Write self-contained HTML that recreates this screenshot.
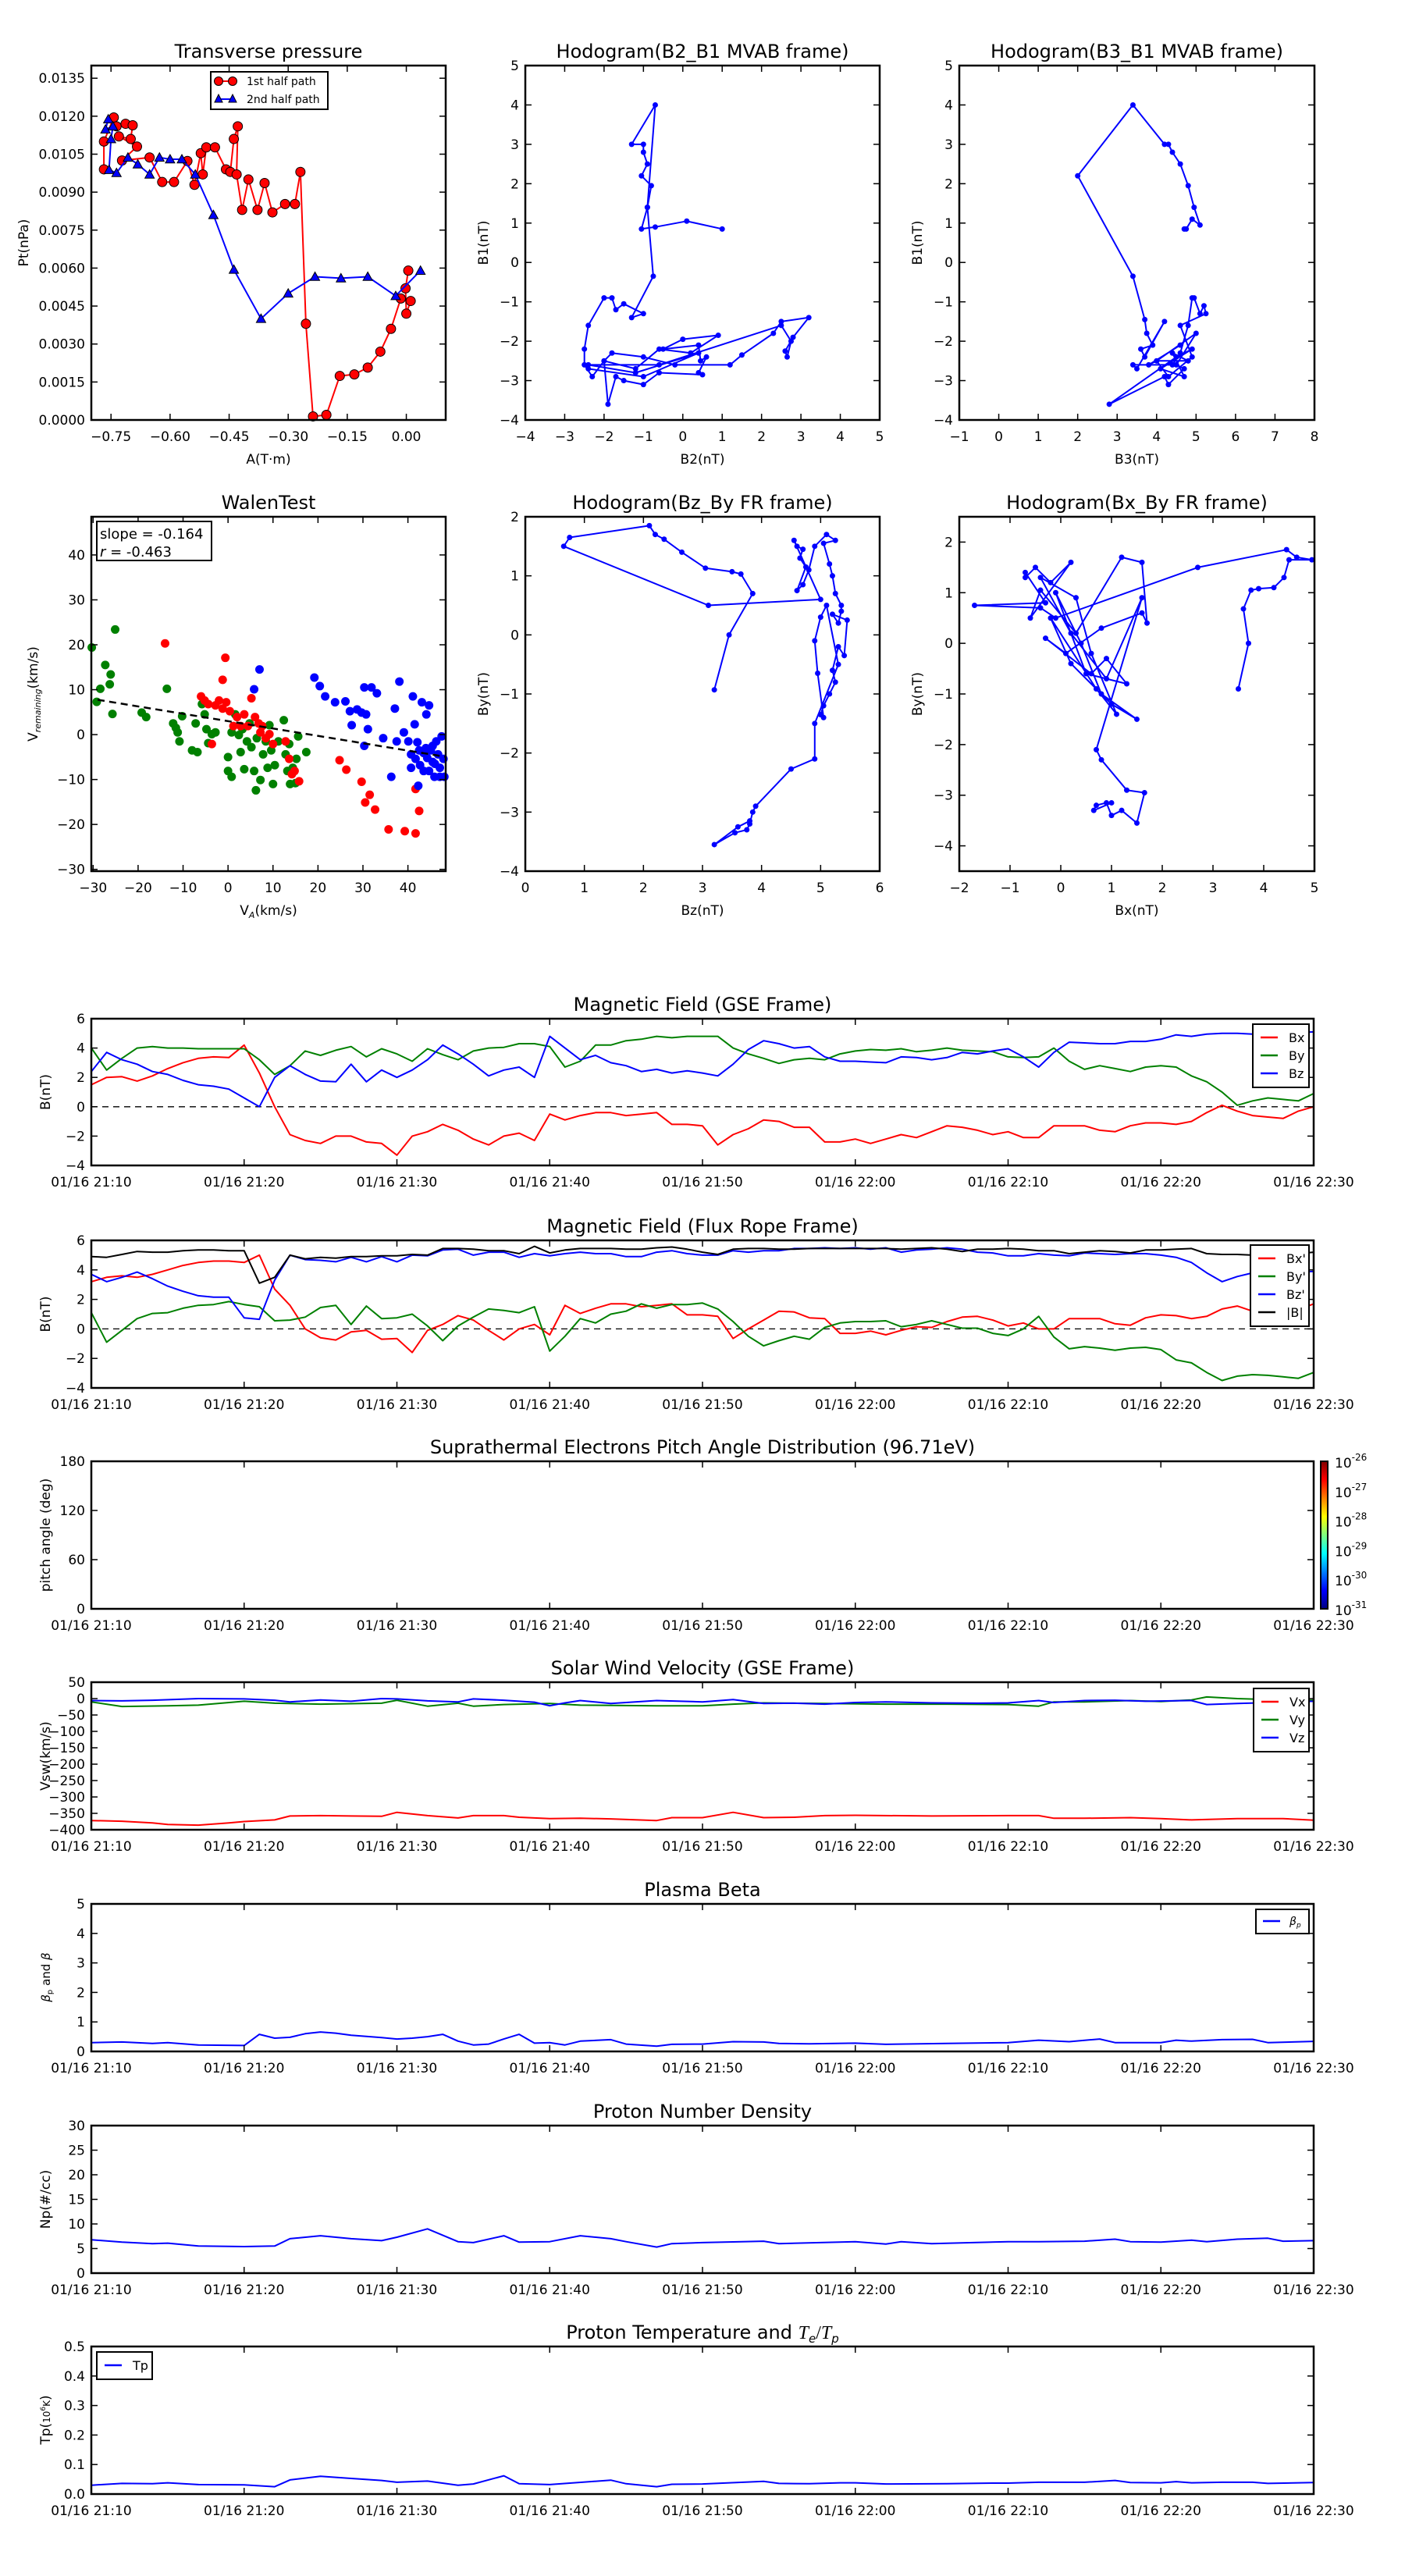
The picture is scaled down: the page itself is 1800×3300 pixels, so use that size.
<!DOCTYPE html>
<html><head><meta charset="utf-8">
<style>
html,body{margin:0;padding:0;background:#fff;}
svg{display:block;font-family:"DejaVu Sans","Liberation Sans",sans-serif;}
</style></head>
<body>
<svg id="fig" width="1800" height="3300" viewBox="0 0 1800 3300" xmlns="http://www.w3.org/2000/svg">
<rect x="0" y="0" width="1800" height="3300" fill="#fff"/>
<defs>
<linearGradient id="jet" x1="0" y1="1" x2="0" y2="0">
<stop offset="0" stop-color="#000080"/><stop offset="0.125" stop-color="#0000ff"/><stop offset="0.375" stop-color="#00ffff"/><stop offset="0.625" stop-color="#ffff00"/><stop offset="0.875" stop-color="#ff0000"/><stop offset="1" stop-color="#800000"/>
</linearGradient>
</defs>
</svg>
<script>
// ---------- data: transverse pressure ----------
const pt1A = [-0.768,-0.768,-0.743,-0.736,-0.713,-0.695,-0.70,-0.73,-0.684,-0.722,-0.652,-0.62,-0.59,-0.556,-0.538,-0.522,-0.517,-0.508,-0.486,-0.458,-0.447,-0.438,-0.428,-0.431,-0.417,-0.401,-0.378,-0.36,-0.34,-0.308,-0.283,-0.269,-0.255,-0.237,-0.203,-0.169,-0.132,-0.098,-0.066,-0.039,-0.014,0.011,0.0,-0.002,0.005];
const pt1P = [0.0099,0.0110,0.01195,0.0116,0.0117,0.01164,0.0111,0.0112,0.0108,0.01025,0.01037,0.0094,0.0094,0.01023,0.00929,0.01054,0.0097,0.01077,0.01077,0.0099,0.0098,0.0111,0.0116,0.0097,0.0083,0.0095,0.0083,0.00936,0.0082,0.00853,0.00853,0.0098,0.0038,0.00014,0.0002,0.00174,0.0018,0.00207,0.0027,0.0036,0.0048,0.0047,0.0042,0.0052,0.0059];
const pt2A = [-0.757,-0.764,-0.745,-0.75,-0.755,-0.736,-0.707,-0.682,-0.652,-0.627,-0.60,-0.57,-0.536,-0.49,-0.438,-0.369,-0.30,-0.232,-0.166,-0.098,-0.027,0.036];
const pt2P = [0.01188,0.01148,0.0116,0.0111,0.00988,0.00976,0.01037,0.0101,0.0097,0.01037,0.0103,0.0103,0.0097,0.0081,0.00594,0.0040,0.0050,0.00566,0.0056,0.00566,0.0049,0.0059];
// ---------- hodogram B2_B1 ----------
const h1X = [1.0,0.1,-0.7,-1.05,-0.9,-0.8,-1.05,-0.9,-1.0,-1.0,-1.3,-0.7,-0.9,-0.75,-1.3,-1.0,-1.5,-1.7,-1.8,-2.0,-2.4,-2.5,-2.5,-2.3,-2.0,-1.2,-0.6,0.2,0.9,0.0,-0.5,0.4,0.45,0.6,0.4,0.5,-0.6,-1.0,-1.5,-1.7,-1.9,-2.0,-1.8,-1.0,-0.2,1.2,1.5,2.3,2.5,3.2,2.8,2.6,2.65,2.75,2.5,-0.6,-2.4,-1.2,0.4,-1.0,-2.4];
const h1Y = [0.85,1.05,0.9,0.85,1.4,1.95,2.2,2.5,2.8,3.0,3.0,4.0,1.4,-0.35,-1.4,-1.3,-1.05,-1.2,-0.9,-0.9,-1.6,-2.2,-2.6,-2.9,-2.5,-2.7,-2.2,-2.3,-1.85,-1.95,-2.2,-2.1,-2.5,-2.4,-2.8,-2.85,-2.8,-3.1,-3.0,-2.9,-3.6,-2.5,-2.3,-2.4,-2.6,-2.6,-2.35,-1.8,-1.5,-1.4,-1.9,-2.25,-2.4,-2.0,-1.6,-2.6,-2.6,-2.8,-2.3,-2.9,-2.7];
// ---------- hodogram B3_B1 ----------
const h2X = [4.7,4.75,4.9,5.1,4.95,4.8,4.6,4.4,4.3,4.2,3.4,2.0,3.4,3.7,3.75,3.9,3.6,3.7,4.2,3.5,3.4,4.4,4.6,4.8,4.9,4.95,5.1,5.2,5.25,4.6,4.9,4.3,4.0,5.0,4.5,4.7,4.3,4.2,2.8,4.5,4.9,4.1,4.7,4.4,4.8,4.0,3.8,4.6];
const h2Y = [0.85,0.85,1.1,0.95,1.4,1.95,2.5,2.8,3.0,3.0,4.0,2.2,-0.35,-1.45,-1.8,-2.1,-2.2,-2.4,-1.5,-2.7,-2.6,-2.6,-2.3,-1.6,-0.9,-0.9,-1.3,-1.1,-1.3,-1.6,-2.4,-2.9,-2.5,-1.8,-2.6,-2.7,-3.1,-2.9,-3.6,-2.4,-2.2,-2.7,-2.9,-2.3,-2.5,-2.5,-2.6,-2.1];
// ---------- Walen test ----------
const wGX = [-30.3,-29.2,-28.4,-27.3,-26.3,-26.1,-25.7,-25.1,-19.2,-18.2,-13.6,-12.2,-11.6,-10.8,-10.2,-11.2,-8,-6.8,-7.2,-5.8,-5.2,-4.8,-4.4,-3.6,-2.8,0,0,0.8,0.8,1.6,2.4,2.8,3.2,3.6,4.2,4.8,5.2,5.8,6.2,6.4,7.2,7.8,8.4,8.8,9.2,9.6,10,10.4,11.2,12.4,12.8,13.2,13.6,13.8,14.4,15,15.2,15.6,17.4];
const wGY = [19.4,7.3,10.2,15.5,11.2,13.4,4.6,23.4,4.9,3.9,10.2,2.5,1.5,-1.5,4.1,0.5,-3.5,-3.9,2.5,6.8,4.5,1.2,-1.9,0.1,0.5,-5,-8.1,-9.4,0.5,4.5,-0.1,-3.9,1.2,-7.7,-1.5,2.5,-2.8,-8.1,-12.4,-0.8,-10.1,-4.4,-1.5,-7.4,2.1,-3.5,-11,-6.8,-1.5,3.2,-4.4,-8.1,-2.1,-11,-7.4,-10.8,-5.4,-0.4,-3.9];
const wRX = [-14,-0.6,-1.2,-6,-5.2,-4.4,-3.6,-2.8,-2,-1.2,-0.4,0.4,1.2,2,2.8,3.6,4.4,5.2,6,6.8,7.2,7.6,8.4,9.2,10,12.8,13.6,14.2,14.8,15.8,24.8,26.3,29.7,30.5,31.5,32.7,35.7,39.3,41.7,41.7,42.5];
const wRY = [20.3,17.1,12.2,8.5,7.6,6.8,-2.1,6.5,7.6,5.8,7.2,5.2,1.9,3.9,1.9,4.5,1.9,8.1,3.9,2.5,0.5,1.9,-0.8,0.1,-2.1,-1.5,-5.4,-8.8,-8.1,-10.4,-5.7,-7.8,-10.5,-15.1,-13.4,-16.7,-21.1,-21.5,-22,-12.1,-17];
const wBX = [7,5.8,19.2,20.4,21.6,23.8,26.1,27.1,27.5,28.7,29.7,30.3,31.1,30.7,30.3,31.9,33.1,34.5,36.3,37.1,37.5,38.1,39.1,40.1,40.7,41.1,41.5,42.1,42.3,42.7,43.1,43.5,44.1,44.3,44.7,44.7,45.1,45.5,45.9,46.3,46.7,47.1,47.5,47.9,48.1,47.1,43.5,41.7,40.7,46,44,42.5,45.5];
const wBY = [14.5,10.1,12.7,10.8,8.5,7.2,7.4,5.2,2.1,5.6,4.9,10.5,1.2,4.5,-2.5,10.5,9.2,-0.8,-9.4,5.8,-1.5,11.8,0.5,-1.5,-4.4,8.5,2.3,-1.7,-11.4,-6.8,7.2,-4.1,4.5,-5.2,6.5,-8.1,-3.5,-6.1,-9.4,-1.5,-4.4,-7.4,-0.4,-5.4,-9.4,-9.4,-8.1,-5.4,-7.4,-6.5,-3,-3.5,-2.5];
const walenSlope = [-0.164];
const walenIntercept = [3.0];
// ---------- hodogram Bz_By FR ----------
const h3X = [3.2,3.45,3.85,3.65,3.5,3.05,2.65,2.35,2.2,2.1,0.75,0.65,3.1,5.0,4.55,4.6,4.7,4.65,4.75,4.6,4.7,4.8,4.9,5.1,5.25,5.05,5.15,5.2,5.25,5.35,5.35,5.3,5.2,5.45,5.4,5.3,5.2,5.25,5.15,5.05,5.0,5.05,4.95,4.9,5.0,5.1,5.3,4.9,4.9,4.5,3.9,3.85,3.8,3.75,3.55,3.2,3.6,3.8];
const h3Y = [-0.93,0.0,0.7,1.03,1.07,1.13,1.4,1.62,1.7,1.85,1.65,1.5,0.5,0.6,1.6,1.5,1.45,1.3,1.15,0.75,0.85,1.1,1.5,1.7,1.6,1.55,1.2,1.0,0.7,0.5,0.4,0.2,0.35,0.25,-0.35,-0.2,-0.6,-0.8,-1.0,-1.2,-1.35,-1.4,-0.65,-0.1,0.3,0.5,-0.5,-1.5,-2.1,-2.27,-2.9,-3.0,-3.2,-3.3,-3.35,-3.55,-3.25,-3.15];
// ---------- hodogram Bx_By FR ----------
const h4X = [3.5,3.7,3.6,3.75,3.9,4.2,4.4,4.5,4.95,4.65,4.45,2.7,-0.1,-0.4,-1.7,-0.3,-0.7,-0.7,-0.5,-0.2,0.2,-0.6,-0.4,0.3,1.2,1.6,1.7,1.6,0.8,0.1,-0.3,0.6,0.9,1.3,0.5,-0.1,0.4,0.8,1.5,1.0,0.2,-0.2,0.7,1.1,0.6,0.3,-0.4,0.2,0.9,1.6,0.7,0.8,1.3,1.65,1.5,1.2,1.0,0.9,0.7,0.65,1.0];
const h4Y = [-0.9,0.0,0.68,1.05,1.08,1.1,1.3,1.65,1.65,1.7,1.85,1.5,0.5,0.7,0.75,0.8,1.4,1.3,1.5,1.2,1.6,0.5,1.05,0.2,1.7,1.6,0.4,0.6,0.3,-0.2,0.1,-0.6,-0.3,-0.8,-0.6,1.0,0.0,-1.0,-1.5,-1.2,-0.4,0.5,-0.9,-1.4,-0.2,0.9,1.3,0.2,-0.7,0.9,-2.1,-2.3,-2.9,-2.95,-3.55,-3.3,-3.4,-3.15,-3.2,-3.3,-3.15];
// ---------- time series (minutes after 21:10) ----------
const bMin = Array.from({length:81}, (_, i) => i);
const gseBx = [1.5,2.0,2.05,1.75,2.1,2.6,3.0,3.3,3.4,3.35,4.2,2.3,0.0,-1.9,-2.3,-2.5,-2.0,-2.0,-2.4,-2.5,-3.3,-2.0,-1.7,-1.2,-1.6,-2.2,-2.6,-2.0,-1.8,-2.3,-0.5,-0.9,-0.6,-0.4,-0.4,-0.6,-0.5,-0.4,-1.2,-1.2,-1.3,-2.6,-1.9,-1.5,-0.9,-1.0,-1.4,-1.4,-2.4,-2.4,-2.2,-2.5,-2.2,-1.9,-2.1,-1.7,-1.3,-1.4,-1.6,-1.9,-1.7,-2.1,-2.1,-1.3,-1.3,-1.3,-1.6,-1.7,-1.3,-1.1,-1.1,-1.2,-1.0,-0.4,0.1,-0.3,-0.6,-0.7,-0.8,-0.3,0.0];
const gseBy = [4.0,2.5,3.3,4.0,4.1,4.0,4.0,3.95,3.95,3.95,3.95,3.2,2.2,2.8,3.8,3.5,3.85,4.1,3.4,3.95,3.6,3.1,3.95,3.55,3.2,3.8,4.0,4.05,4.3,4.3,4.1,2.7,3.1,4.2,4.2,4.5,4.6,4.8,4.7,4.8,4.8,4.8,4.0,3.6,3.3,2.95,3.2,3.3,3.2,3.6,3.8,3.9,3.85,3.95,3.75,3.85,4.0,3.85,3.8,3.75,3.4,3.35,3.4,4.0,3.1,2.55,2.8,2.6,2.4,2.7,2.8,2.7,2.1,1.7,1.0,0.1,0.4,0.6,0.5,0.4,0.9];
const gseBz = [2.4,3.7,3.2,2.9,2.4,2.2,1.8,1.5,1.4,1.2,0.6,0.0,2.0,2.8,2.2,1.75,1.7,2.9,1.7,2.5,2.0,2.5,3.2,4.2,3.6,2.9,2.1,2.5,2.7,2.0,4.8,4.0,3.2,3.5,3.0,2.8,2.4,2.55,2.3,2.45,2.3,2.1,2.9,3.9,4.5,4.3,4.0,4.1,3.4,3.1,3.1,3.05,3.0,3.4,3.35,3.2,3.35,3.7,3.6,3.8,3.95,3.4,2.7,3.7,4.4,4.35,4.3,4.3,4.45,4.45,4.6,4.9,4.8,4.95,5.0,5.0,4.95,4.95,5.05,5.05,5.1];
const frBx = [3.2,3.5,3.6,3.5,3.7,4.0,4.3,4.5,4.6,4.6,4.5,5.0,2.7,1.6,0.0,-0.6,-0.75,-0.2,-0.1,-0.7,-0.65,-1.6,-0.1,0.3,0.9,0.6,-0.1,-0.75,0.0,0.3,-0.4,1.6,1.05,1.4,1.7,1.7,1.5,1.6,1.7,0.95,0.95,0.85,-0.65,0.0,0.6,1.2,1.15,0.75,0.7,-0.3,-0.3,-0.15,-0.4,-0.1,0.15,0.1,0.5,0.8,0.85,0.6,0.2,0.4,0.0,0.0,0.7,0.7,0.7,0.35,0.25,0.75,0.95,0.9,0.7,0.85,1.35,1.55,1.2,0.95,1.1,1.3,1.7];
const frBy = [1.1,-0.9,-0.1,0.7,1.05,1.1,1.4,1.6,1.65,1.85,1.65,1.5,0.55,0.6,0.8,1.45,1.6,0.3,1.55,0.7,0.75,1.0,0.2,-0.8,0.2,0.8,1.35,1.25,1.1,1.5,-1.5,-0.5,0.7,0.4,1.0,1.2,1.7,1.4,1.65,1.65,1.75,1.35,0.5,-0.5,-1.15,-0.8,-0.5,-0.7,0.1,0.4,0.5,0.5,0.55,0.15,0.3,0.55,0.3,0.05,0.05,-0.3,-0.45,0.0,0.85,-0.55,-1.35,-1.2,-1.3,-1.45,-1.3,-1.25,-1.4,-2.1,-2.3,-2.95,-3.5,-3.2,-3.1,-3.15,-3.25,-3.35,-2.95];
const frBz = [3.7,3.2,3.5,3.85,3.4,2.9,2.55,2.25,2.15,2.15,0.75,0.65,3.3,5.0,4.7,4.65,4.55,4.85,4.55,4.9,4.55,5.0,4.95,5.35,5.4,5.0,5.2,5.2,4.85,5.1,4.95,5.1,5.2,5.1,5.1,4.9,4.9,5.2,5.3,5.1,5.0,5.0,5.3,5.2,5.3,5.3,5.45,5.45,5.5,5.45,5.5,5.4,5.5,5.2,5.35,5.4,5.5,5.4,5.2,5.15,4.95,4.95,5.1,5.0,4.95,5.15,5.1,5.05,5.1,5.1,5.0,4.85,4.5,3.8,3.2,3.55,3.8,3.85,3.9,3.85,3.9];
const frBt = [4.9,4.85,5.05,5.25,5.2,5.2,5.3,5.35,5.35,5.3,5.3,3.1,3.5,5.0,4.75,4.85,4.8,4.9,4.9,4.95,4.95,5.05,5.0,5.45,5.45,5.4,5.3,5.3,5.1,5.6,5.15,5.35,5.45,5.45,5.45,5.4,5.4,5.5,5.55,5.4,5.2,5.05,5.4,5.45,5.45,5.4,5.4,5.45,5.45,5.45,5.45,5.45,5.45,5.4,5.45,5.5,5.4,5.25,5.4,5.4,5.45,5.4,5.3,5.3,5.1,5.2,5.3,5.25,5.15,5.35,5.35,5.4,5.45,5.1,5.05,5.05,5.0,5.0,5.05,5.1,5.2];
const vxMin = [0,2,4,5,7,9,10,12,13,15,17,19,20,22,24,25,27,28,30,32,34,37,38,40,42,44,46,48,50,55,60,62,63,65,68,70,72,75,78,80];
const vxVal = [-372,-374,-379,-384,-386,-379,-375,-370,-358,-357,-358,-359,-347,-357,-364,-357,-357,-362,-366,-365,-367,-372,-363,-363,-347,-363,-362,-357,-356,-358,-357,-357,-365,-365,-363,-366,-370,-366,-366,-371];
const vyMin = [0,2,5,7,10,12,15,19,20,22,24,25,27,30,32,37,40,42,44,48,52,56,60,62,63,65,68,70,72,73,75,78,80];
const vyVal = [-10,-24,-22,-20,-8,-14,-17,-14,-5,-23,-14,-23,-18,-15,-20,-22,-22,-17,-13,-15,-17,-17,-18,-23,-10,-10,-6,-9,-4,5,0,-4,-5];
const vzMin = [0,2,4,7,10,12,13,15,17,19,20,22,24,25,27,29,30,31,32,34,37,40,42,44,46,48,50,52,55,58,60,62,63,65,67,69,72,73,75,80];
const vzVal = [-6,-7,-5,0,-1,-5,-10,-4,-8,0,-1,-7,-10,-1,-5,-11,-22,-13,-6,-15,-6,-10,-3,-15,-14,-17,-12,-10,-13,-14,-13,-6,-12,-6,-5,-8,-6,-18,-15,-8];
const betaMin = [0,2,4,5,7,10,11,12,13,14,15,16,17,19,20,21,22,23,24,25,26,27,28,29,30,31,32,34,35,37,38,40,42,44,45,47,50,52,56,60,62,64,66,67,70,71,72,74,76,77,80];
const betaVal = [0.3,0.32,0.27,0.3,0.22,0.2,0.58,0.45,0.48,0.6,0.66,0.62,0.55,0.47,0.42,0.45,0.5,0.58,0.35,0.22,0.25,0.42,0.58,0.28,0.3,0.22,0.35,0.4,0.25,0.18,0.24,0.25,0.33,0.32,0.27,0.26,0.28,0.24,0.27,0.3,0.38,0.33,0.42,0.3,0.3,0.38,0.35,0.4,0.41,0.3,0.34];
const npMin = [0,2,4,5,7,10,12,13,15,17,19,20,22,24,25,27,28,30,32,34,35,37,38,40,44,45,50,52,53,55,60,62,65,67,68,70,72,73,75,77,78,80];
const npVal = [6.8,6.3,6.0,6.1,5.5,5.4,5.5,7.0,7.6,7.0,6.6,7.3,9.0,6.4,6.2,7.6,6.3,6.4,7.6,7.0,6.4,5.3,6.0,6.2,6.5,6.0,6.4,5.9,6.4,6.0,6.4,6.4,6.5,6.9,6.4,6.3,6.7,6.4,6.9,7.1,6.5,6.6];
const tpMin = [0,2,4,5,7,10,12,13,15,17,19,20,22,24,25,27,28,30,34,35,37,38,40,44,45,47,49,50,52,56,59,60,62,65,67,68,70,71,72,74,76,77,80];
const tpVal = [0.03,0.036,0.035,0.038,0.032,0.031,0.025,0.048,0.06,0.053,0.046,0.04,0.044,0.03,0.034,0.062,0.035,0.032,0.047,0.035,0.025,0.033,0.034,0.043,0.036,0.035,0.038,0.038,0.034,0.035,0.037,0.037,0.04,0.04,0.046,0.039,0.038,0.042,0.038,0.04,0.04,0.036,0.039];
const timeTickMin = [0,10,20,30,40,50,60,70,80];
const timeTickLabels = ["01/16 21:10","01/16 21:20","01/16 21:30","01/16 21:40","01/16 21:50","01/16 22:00","01/16 22:10","01/16 22:20","01/16 22:30"];

// ---------- drawing helpers ----------
const NS = "http://www.w3.org/2000/svg";
const fig = document.getElementById('fig');
function mk(tag, attrs, parent, name) {
  const e = document.createElementNS(NS, tag);
  for (const k in attrs) e.setAttribute(k, attrs[k]);
  
  
  (parent || fig).appendChild(e);
  return e;
}
function txt(s, x, y, opts, parent, name) {
  const a = Object.assign({x: x, y: y, 'font-size': 17, fill: '#000'}, opts || {});
  const t = mk('text', a, parent, name);
  t.textContent = s;
  return t;
}
function makeAxes(name, x0, y0, x1, y1, xmin, xmax, ymin, ymax) {
  const g = mk('g', {}, fig, name);
  const ax = {g, x0, y0, x1, y1,
    sx: v => x0 + (v - xmin) / (xmax - xmin) * (x1 - x0),
    sy: v => y1 - (v - ymin) / (ymax - ymin) * (y1 - y0)};
  return ax;
}
function frame(ax) {
  mk('rect', {x: ax.x0, y: ax.y0, width: ax.x1 - ax.x0, height: ax.y1 - ax.y0, fill: 'none', stroke: '#000', 'stroke-width': 2.5}, ax.g, 'plot-frame');
}
function xTicks(ax, vals, labels, fs) {
  vals.forEach((v, i) => {
    const x = ax.sx(v);
    mk('line', {x1: x, x2: x, y1: ax.y1, y2: ax.y1 - 8, stroke: '#000', 'stroke-width': 1.5}, ax.g, 'x-tick');
    mk('line', {x1: x, x2: x, y1: ax.y0, y2: ax.y0 + 8, stroke: '#000', 'stroke-width': 1.5}, ax.g, 'x-tick-top');
    txt(labels[i], x, ax.y1 + 27, {'text-anchor': 'middle', 'font-size': fs || 17}, ax.g, 'x-tick-label');
  });
}
function yTicks(ax, vals, labels) {
  vals.forEach((v, i) => {
    const y = ax.sy(v);
    mk('line', {x1: ax.x0, x2: ax.x0 + 8, y1: y, y2: y, stroke: '#000', 'stroke-width': 1.5}, ax.g, 'y-tick');
    mk('line', {x1: ax.x1, x2: ax.x1 - 8, y1: y, y2: y, stroke: '#000', 'stroke-width': 1.5}, ax.g, 'y-tick-right');
    txt(labels[i], ax.x0 - 8, y + 6, {'text-anchor': 'end'}, ax.g, 'y-tick-label');
  });
}
function title(ax, s) { txt(s, (ax.x0 + ax.x1) / 2, ax.y0 - 10, {'text-anchor': 'middle', 'font-size': 24}, ax.g, 'plot-title'); }
function ylab(ax, s, x) {
  const cy = (ax.y0 + ax.y1) / 2;
  txt(s, x, cy, {'text-anchor': 'middle', 'font-size': 17, transform: `rotate(-90 ${x} ${cy})`}, ax.g, 'y-axis-title');
}
function xlab(ax, s) { txt(s, (ax.x0 + ax.x1) / 2, ax.y1 + 56, {'text-anchor': 'middle', 'font-size': 17}, ax.g, 'x-axis-title'); }
function line(ax, xs, ys, color, name, w) {
  const d = xs.map((x, i) => (i ? 'L' : 'M') + ax.sx(x).toFixed(1) + ',' + ax.sy(ys[i]).toFixed(1)).join('');
  return mk('path', {d: d, fill: 'none', stroke: color, 'stroke-width': w || 2, 'stroke-linejoin': 'round'}, ax.g, name);
}
function dots(ax, xs, ys, color, r, name, stroke) {
  xs.forEach((x, i) => {
    mk('circle', {cx: ax.sx(x), cy: ax.sy(ys[i]), r: r, fill: color, stroke: stroke || 'none', 'stroke-width': 1}, ax.g, name);
  });
}
function tris(ax, xs, ys, color, s, name) {
  xs.forEach((x, i) => {
    const cx = ax.sx(x), cy = ax.sy(ys[i]);
    mk('polygon', {points: `${cx},${cy - s} ${cx - s},${cy + s * 0.8} ${cx + s},${cy + s * 0.8}`, fill: color, stroke: '#000', 'stroke-width': 1}, ax.g, name);
  });
}
function zeroLine(ax) {
  mk('line', {x1: ax.x0, x2: ax.x1, y1: ax.sy(0), y2: ax.sy(0), stroke: '#000', 'stroke-width': 1.3, 'stroke-dasharray': '8,6'}, ax.g, 'zero-line');
}
function legend(ax, x, y, w, entries, colors, fs) {
  const g = mk('g', {}, ax.g, 'legend');
  const h = entries.length * 23 + 12;
  mk('rect', {x: x, y: y, width: w, height: h, fill: '#fff', stroke: '#000', 'stroke-width': 2}, g, 'legend-box');
  entries.forEach((s, i) => {
    const yy = y + 17 + i * 23;
    mk('line', {x1: x + 10, x2: x + 32, y1: yy, y2: yy, stroke: colors[i], 'stroke-width': 2.5}, g, 'legend-swatch');
    txt(s, x + 46, yy + 6, {'font-size': fs || 16}, g, 'legend-entry');
  });
}
function range(a, b, s) { const r = []; for (let v = a; v <= b + 1e-9; v += s) r.push(+v.toFixed(6)); return r; }

// ---------- Top row ----------
let ax = makeAxes('transverse-pressure-plot', 117, 84, 571, 538, -0.8, 0.1, 0, 0.014);
title(ax, 'Transverse pressure');
line(ax, pt1A, pt1P, '#f00', 'first-half-path-line', 2);
dots(ax, pt1A, pt1P, '#f00', 6, 'first-half-point', '#000');
line(ax, pt2A, pt2P, '#00f', 'second-half-path-line', 2);
tris(ax, pt2A, pt2P, '#00f', 6, 'second-half-point');
frame(ax);
xTicks(ax, [-0.75,-0.6,-0.45,-0.3,-0.15,0], ['\u22120.75','\u22120.60','\u22120.45','\u22120.30','\u22120.15','0.00']);
const ptTicks = range(0, 0.0135, 0.0015);
yTicks(ax, ptTicks, ptTicks.map(v => v.toFixed(4)));
ylab(ax, 'Pt(nPa)', 36); xlab(ax, 'A(T\u00b7m)');
{
  const g = mk('g', {}, ax.g, 'pressure-legend');
  mk('rect', {x: 270, y: 92, width: 150, height: 48, fill: '#fff', stroke: '#000', 'stroke-width': 2}, g, 'legend-box');
  mk('line', {x1: 278, x2: 300, y1: 104, y2: 104, stroke: '#f00', 'stroke-width': 2}, g, 'legend-swatch');
  mk('circle', {cx: 280, cy: 104, r: 5.5, fill: '#f00', stroke: '#000'}, g, 'legend-marker');
  mk('circle', {cx: 298, cy: 104, r: 5.5, fill: '#f00', stroke: '#000'}, g, 'legend-marker');
  txt('1st half path', 316, 109, {'font-size': 14}, g, 'legend-entry');
  mk('line', {x1: 278, x2: 300, y1: 127, y2: 127, stroke: '#00f', 'stroke-width': 2}, g, 'legend-swatch');
  mk('polygon', {points: '280,121 275,131 285,131', fill: '#00f', stroke: '#000'}, g, 'legend-marker');
  mk('polygon', {points: '298,121 293,131 303,131', fill: '#00f', stroke: '#000'}, g, 'legend-marker');
  txt('2nd half path', 316, 132, {'font-size': 14}, g, 'legend-entry');
}

ax = makeAxes('hodogram-b2-b1-plot', 673, 84, 1127, 538, -4, 5, -4, 5);
title(ax, 'Hodogram(B2_B1 MVAB frame)');
line(ax, h1X, h1Y, '#00f', 'hodogram-path', 2);
dots(ax, h1X, h1Y, '#00f', 3.5, 'hodogram-point');
frame(ax);
xTicks(ax, range(-4, 5, 1), range(-4, 5, 1).map(v => v < 0 ? '\u2212' + (-v) : '' + v));
yTicks(ax, range(-4, 5, 1), range(-4, 5, 1).map(v => v < 0 ? '\u2212' + (-v) : '' + v));
ylab(ax, 'B1(nT)', 625); xlab(ax, 'B2(nT)');

ax = makeAxes('hodogram-b3-b1-plot', 1229, 84, 1684, 538, -1, 8, -4, 5);
title(ax, 'Hodogram(B3_B1 MVAB frame)');
line(ax, h2X, h2Y, '#00f', 'hodogram-path', 2);
dots(ax, h2X, h2Y, '#00f', 3.5, 'hodogram-point');
frame(ax);
xTicks(ax, range(-1, 8, 1), range(-1, 8, 1).map(v => v < 0 ? '\u2212' + (-v) : '' + v));
yTicks(ax, range(-4, 5, 1), range(-4, 5, 1).map(v => v < 0 ? '\u2212' + (-v) : '' + v));
ylab(ax, 'B1(nT)', 1181); xlab(ax, 'B3(nT)');

// ---------- Second row ----------
ax = makeAxes('walen-test-plot', 117, 662, 571, 1116, -30.4, 48.4, -30.4, 48.5);
title(ax, 'WalenTest');
dots(ax, wGX, wGY, '#008000', 5.5, 'walen-green-point');
dots(ax, wRX, wRY, '#f00', 5.5, 'walen-red-point');
dots(ax, wBX, wBY, '#00f', 5.5, 'walen-blue-point');
{
  const xa = -29, xb = 48.4;
  mk('line', {x1: ax.sx(xa), x2: ax.sx(xb), y1: ax.sy(walenIntercept[0] + walenSlope[0] * xa), y2: ax.sy(walenIntercept[0] + walenSlope[0] * xb), stroke: '#000', 'stroke-width': 2.5, 'stroke-dasharray': '9,6'}, ax.g, 'walen-fit-line');
}
frame(ax);
xTicks(ax, range(-30, 40, 10), range(-30, 40, 10).map(v => v < 0 ? '\u2212' + (-v) : '' + v));
yTicks(ax, range(-30, 40, 10), range(-30, 40, 10).map(v => v < 0 ? '\u2212' + (-v) : '' + v));
{
  const cy = 889;
  const t = mk('text', {x: 48, y: cy, 'font-size': 17, 'text-anchor': 'middle', transform: `rotate(-90 48 ${cy})`}, ax.g, 'y-axis-title');
  t.innerHTML = 'V<tspan font-size="11" dy="4" font-style="italic">remaining</tspan><tspan dy="-4">(km/s)</tspan>';
  const t2 = mk('text', {x: 344, y: 1172, 'font-size': 17, 'text-anchor': 'middle'}, ax.g, 'x-axis-title');
  t2.innerHTML = 'V<tspan font-size="11" dy="4" font-style="italic">A</tspan><tspan dy="-4">(km/s)</tspan>';
  mk('rect', {x: 124, y: 668, width: 147, height: 50, fill: '#fff', stroke: '#000', 'stroke-width': 2}, ax.g, 'walen-stats-box');
  txt('slope = -0.164', 128, 690, {'font-size': 18}, ax.g, 'slope-text');
  const t3 = mk('text', {x: 128, y: 713, 'font-size': 18}, ax.g, 'correlation-text');
  t3.innerHTML = '<tspan font-style="italic">r</tspan> = -0.463';
}

ax = makeAxes('hodogram-bz-by-plot', 673, 662, 1127, 1116, 0, 6, -4, 2);
title(ax, 'Hodogram(Bz_By FR frame)');
line(ax, h3X, h3Y, '#00f', 'hodogram-path', 2);
dots(ax, h3X, h3Y, '#00f', 3.5, 'hodogram-point');
frame(ax);
xTicks(ax, range(0, 6, 1), range(0, 6, 1).map(v => '' + v));
yTicks(ax, range(-4, 2, 1), range(-4, 2, 1).map(v => v < 0 ? '\u2212' + (-v) : '' + v));
ylab(ax, 'By(nT)', 625); xlab(ax, 'Bz(nT)');

ax = makeAxes('hodogram-bx-by-plot', 1229, 662, 1684, 1116, -2, 5, -4.5, 2.5);
title(ax, 'Hodogram(Bx_By FR frame)');
line(ax, h4X, h4Y, '#00f', 'hodogram-path', 2);
dots(ax, h4X, h4Y, '#00f', 3.5, 'hodogram-point');
frame(ax);
xTicks(ax, range(-2, 5, 1), range(-2, 5, 1).map(v => v < 0 ? '\u2212' + (-v) : '' + v));
yTicks(ax, range(-4, 2, 1), range(-4, 2, 1).map(v => v < 0 ? '\u2212' + (-v) : '' + v));
ylab(ax, 'By(nT)', 1181); xlab(ax, 'Bx(nT)');

// ---------- Time series ----------
function tsAxes(name, y0, y1, ymin, ymax) {
  const a = makeAxes(name, 117, y0, 1683, y1, 0, 80, ymin, ymax);
  return a;
}
function tsFinish(a, yv, yl, ylabel) {
  frame(a);
  xTicks(a, timeTickMin, timeTickLabels, 17);
  yTicks(a, yv, yl);
  ylab(a, ylabel, 64);
}
const neg = v => v < 0 ? '\u2212' + (-v) : '' + v;

ax = tsAxes('magnetic-field-gse-plot', 1305, 1493, -4, 6);
title(ax, 'Magnetic Field (GSE Frame)');
zeroLine(ax);
line(ax, bMin, gseBx, '#f00', 'bx-line');
line(ax, bMin, gseBy, '#008000', 'by-line');
line(ax, bMin, gseBz, '#00f', 'bz-line');
tsFinish(ax, range(-4, 6, 2), range(-4, 6, 2).map(neg), 'B(nT)');
legend(ax, 1605, 1312, 72, ['Bx','By','Bz'], ['#f00','#008000','#00f']);

ax = tsAxes('magnetic-field-flux-rope-plot', 1589, 1778, -4, 6);
title(ax, 'Magnetic Field (Flux Rope Frame)');
zeroLine(ax);
line(ax, bMin, frBx, '#f00', 'bx-prime-line');
line(ax, bMin, frBy, '#008000', 'by-prime-line');
line(ax, bMin, frBz, '#00f', 'bz-prime-line');
line(ax, bMin, frBt, '#000', 'b-magnitude-line');
tsFinish(ax, range(-4, 6, 2), range(-4, 6, 2).map(neg), 'B(nT)');
legend(ax, 1602, 1595, 75, ["Bx'","By'","Bz'","|B|"], ['#f00','#008000','#00f','#000']);

ax = tsAxes('pitch-angle-distribution-plot', 1872, 2061, 0, 180);
title(ax, 'Suprathermal Electrons Pitch Angle Distribution (96.71eV)');
tsFinish(ax, [0,60,120,180], ['0','60','120','180'], 'pitch angle (deg)');
{
  mk('rect', {x: 1692, y: 1872, width: 9, height: 189, fill: 'url(#jet)', stroke: '#000', 'stroke-width': 2}, ax.g, 'colorbar');
  const exps = ['-26','-27','-28','-29','-30','-31'];
  exps.forEach((e, i) => {
    const y = 1872 + i * 37.8;
    const t = mk('text', {x: 1710, y: y + 8, 'font-size': 17}, ax.g, 'colorbar-tick-label');
    t.innerHTML = '10<tspan font-size="12" dy="-9">' + e + '</tspan>';
  });
}

ax = tsAxes('solar-wind-velocity-plot', 2155, 2344, -400, 50);
title(ax, 'Solar Wind Velocity (GSE Frame)');
line(ax, vxMin, vxVal, '#f00', 'vx-line');
line(ax, vyMin, vyVal, '#008000', 'vy-line');
line(ax, vzMin, vzVal, '#00f', 'vz-line');
tsFinish(ax, range(-400, 50, 50), range(-400, 50, 50).map(neg), 'Vsw(km/s)');
legend(ax, 1606, 2163, 71, ['Vx','Vy','Vz'], ['#f00','#008000','#00f']);

ax = tsAxes('plasma-beta-plot', 2439, 2628, 0, 5);
title(ax, 'Plasma Beta');
line(ax, betaMin, betaVal, '#00f', 'beta-p-line');
tsFinish(ax, range(0, 5, 1), range(0, 5, 1).map(v => '' + v), '');
{
  const cy = 2533;
  const t = mk('text', {x: 64, y: cy, 'font-size': 15, 'text-anchor': 'middle', transform: `rotate(-90 64 ${cy})`}, ax.g, 'y-axis-title');
  t.innerHTML = '<tspan font-style="italic">\u03b2</tspan><tspan font-size="10" dy="3">p</tspan><tspan dy="-3"> and </tspan><tspan font-style="italic">\u03b2</tspan>';
  const g = mk('g', {}, ax.g, 'legend');
  mk('rect', {x: 1609, y: 2446, width: 68, height: 31, fill: '#fff', stroke: '#000', 'stroke-width': 2}, g, 'legend-box');
  mk('line', {x1: 1618, x2: 1640, y1: 2461, y2: 2461, stroke: '#00f', 'stroke-width': 2.5}, g, 'legend-swatch');
  const t2 = mk('text', {x: 1652, y: 2466, 'font-size': 14, 'font-style': 'italic'}, g, 'legend-entry');
  t2.innerHTML = '\u03b2<tspan font-size="9" dy="3">p</tspan>';
}

ax = tsAxes('proton-density-plot', 2723, 2912, 0, 30);
title(ax, 'Proton Number Density');
line(ax, npMin, npVal, '#00f', 'density-line');
tsFinish(ax, range(0, 30, 5), range(0, 30, 5).map(v => '' + v), 'Np(#/cc)');

ax = tsAxes('proton-temperature-plot', 3006, 3195, 0, 0.5);
{
  const t = mk('text', {x: 900, y: 2996, 'font-size': 24, 'text-anchor': 'middle'}, ax.g, 'plot-title');
  t.innerHTML = 'Proton Temperature and <tspan font-family="Liberation Serif, serif" font-style="italic">T</tspan><tspan font-size="15" dy="5" font-style="italic">e</tspan><tspan dy="-5" font-family="Liberation Serif, serif">/</tspan><tspan font-family="Liberation Serif, serif" font-style="italic">T</tspan><tspan font-size="15" dy="5" font-style="italic">p</tspan>';
}
line(ax, tpMin, tpVal, '#00f', 'tp-line');
frame(ax);
xTicks(ax, timeTickMin, timeTickLabels, 17);
yTicks(ax, range(0, 0.5, 0.1), range(0, 0.5, 0.1).map(v => v.toFixed(1)));
{
  const cy = 3100;
  const t = mk('text', {x: 64, y: cy, 'font-size': 17, 'text-anchor': 'middle', transform: `rotate(-90 64 ${cy})`}, ax.g, 'y-axis-title');
  t.innerHTML = 'Tp(<tspan font-size="12">10</tspan><tspan font-size="9" dy="-6">6</tspan><tspan font-size="12" dy="6">K</tspan>)';
}
legend(ax, 124, 3013, 71, ['Tp'], ['#00f']);
</script>
</body></html>
